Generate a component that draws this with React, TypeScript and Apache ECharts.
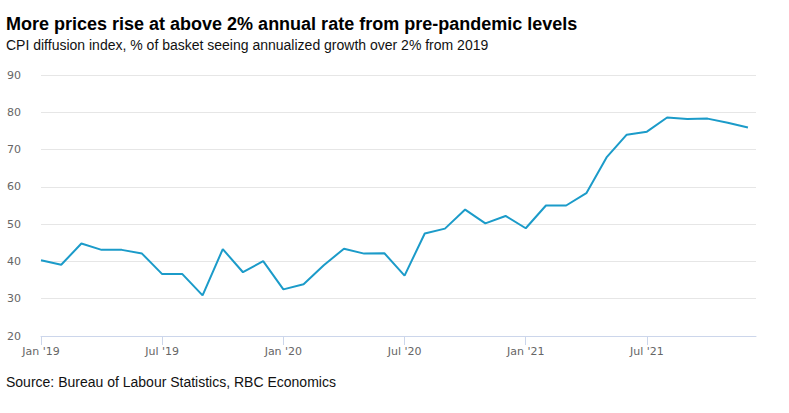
import React, { useEffect, useRef } from "react";
import * as echarts from "echarts";

const months: string[] = [
  "Jan '19", "Feb '19", "Mar '19", "Apr '19", "May '19", "Jun '19", "Jul '19", "Aug '19", "Sep '19", "Oct '19", "Nov '19", "Dec '19",
  "Jan '20", "Feb '20", "Mar '20", "Apr '20", "May '20", "Jun '20", "Jul '20", "Aug '20", "Sep '20", "Oct '20", "Nov '20", "Dec '20",
  "Jan '21", "Feb '21", "Mar '21", "Apr '21", "May '21", "Jun '21", "Jul '21", "Aug '21", "Sep '21", "Oct '21", "Nov '21", "Dec '21",
];

const diffusion: number[] = [
  40.3, 39.1, 44.8, 43.1, 43.1, 42.1, 36.6, 36.6, 30.9, 43.3, 37.1, 40.1,
  32.5, 33.9, 39.0, 43.4, 42.1, 42.2, 36.2, 47.5, 48.8, 53.9, 50.2, 52.2,
  48.9, 55.0, 55.0, 58.3, 67.9, 74.0, 74.8, 78.6, 78.2, 78.3, 77.2, 75.9,
];

const tickIndexes: number[] = [0, 6, 12, 18, 24, 30];
const yTicks: number[] = [20, 30, 40, 50, 60, 70, 80, 90];

const titleText = "More prices rise at above 2% annual rate from pre-pandemic levels";
const subtitleText = "CPI diffusion index, % of basket seeing annualized growth over 2% from 2019";
const sourceText = "Source: Bureau of Labour Statistics, RBC Economics";

export default function App() {
  const ref = useRef<HTMLDivElement>(null);
  useEffect(() => {
    if (!ref.current) return;
    const chart = echarts.init(ref.current, undefined, { renderer: "svg" });
    chart.setOption({
      animation: false,
      backgroundColor: "#ffffff",
      title: [
        {
          text: titleText,
          left: 1,
          top: 10,
          textStyle: { fontFamily: "Liberation Sans, Arial", fontSize: 18, fontWeight: "bold", color: "#000" },
        },
        {
          text: subtitleText,
          left: 1,
          top: 33,
          textStyle: { fontFamily: "Liberation Sans, Arial", fontSize: 14, fontWeight: "normal", color: "#111" },
        },
        {
          text: sourceText,
          left: 1,
          top: 370,
          textStyle: { fontFamily: "Liberation Sans, Arial", fontSize: 14, fontWeight: "normal", color: "#111" },
        },
      ],
      grid: { left: 41, right: 33, top: 75, bottom: 77, containLabel: false },
      xAxis: {
        type: "value",
        min: 0,
        max: 35.4,
        axisLine: { show: true, lineStyle: { color: "#ccd6eb", width: 1 } },
        axisTick: { show: true, length: 9, lineStyle: { color: "#ccd6eb" }, customValues: tickIndexes },
        axisLabel: {
          customValues: tickIndexes,
          formatter: (v: number) => months[Math.round(v)] ?? "",
          color: "#666",
          fontFamily: "DejaVu Sans",
          fontSize: 11,
          margin: 10,
        },
        splitLine: { show: false },
      },
      yAxis: {
        type: "value",
        min: yTicks[0],
        max: yTicks[yTicks.length - 1],
        interval: 10,
        axisLine: { show: false },
        axisTick: { show: false },
        axisLabel: { color: "#666", fontFamily: "DejaVu Sans", fontSize: 11, margin: 20 },
        splitLine: { lineStyle: { color: "#e6e6e6", width: 1 } },
      },
      series: [
        {
          type: "line",
          data: diffusion.map((v, i) => [i, v]),
          symbol: "none",
          lineStyle: { color: "#1b9bc9", width: 2 },
        },
      ],
    });
    return () => chart.dispose();
  }, []);
  return <div ref={ref} style={{ position: "fixed", left: 0, top: 0, width: 789, height: 413 }} />;
}
